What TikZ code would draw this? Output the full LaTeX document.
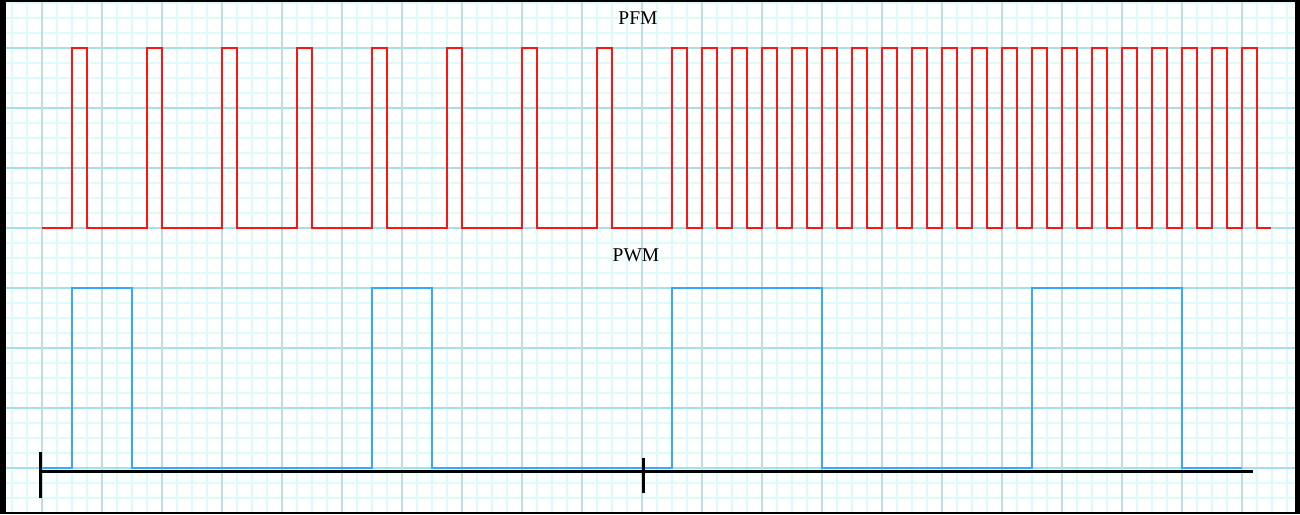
\documentclass[tikz,border=0pt]{standalone}
\usepackage{fontspec}
\setmainfont{Liberation Serif}

\definecolor{gridminor}{RGB}{222,251,251}
\definecolor{gridhmajor}{RGB}{165,224,232}
\definecolor{gridvmajor}{RGB}{192,222,226}
\definecolor{pfmred}{RGB}{255,20,20}
\definecolor{pwmblue}{RGB}{51,170,255}

\tikzset{
  minorline/.style={gridminor, line width=1.1pt},
  hmajorline/.style={gridhmajor, line width=1.2pt},
  vmajorline/.style={gridvmajor, line width=1.2pt},
  pfmwave/.style={pfmred, line width=2.2pt},
  pwmwave/.style={pwmblue, line width=2.2pt},
  axisline/.style={black, line width=3pt},
  title/.style={font=\fontsize{19.5}{22}\selectfont}
}

\begin{document}
\begin{tikzpicture}[x=1pt,y=-1pt]

  \useasboundingbox (0,0) rectangle (1300,514);
  \fill[black] (0,0) rectangle (1300,514);
  \fill[white] (6,2) rectangle (1295,512);

  % grid
  \foreach \x in {12,27,...,1292}
    \draw[minorline] (\x,2) -- (\x,512);
  \foreach \y in {3,18,...,510}
    \draw[minorline] (6,\y) -- (1295,\y);
  \foreach \y in {48,108,...,510}
    \draw[hmajorline] (6,\y) -- (1295,\y);
  \foreach \x in {42,102,...,1292}
    \draw[vmajorline] (\x,2) -- (\x,512);

  \node[title] (pfmlabel) at (638,18) {PFM};
  \node[title] (pwmlabel) at (636,255) {PWM};

  % PFM
  \draw[pfmwave] (42,228)
    \foreach \x in {72,147,...,597,672,702,...,1242} {
      -- (\x,228) -- (\x,48) -- (\x+15,48) -- (\x+15,228)
    } -- (1271,228);

  % PWM
  \draw[pwmwave] (42,468)
    -- (72,468) -- (72,288) -- (132,288) -- (132,468)
    -- (372,468) -- (372,288) -- (432,288) -- (432,468)
    -- (672,468) -- (672,288) -- (822,288) -- (822,468)
    -- (1032,468) -- (1032,288) -- (1182,288) -- (1182,468)
    -- (1242,468);

  \coordinate (axisstart) at (40,471);
  \coordinate (axismid) at (643,471);
  \coordinate (axisend) at (1253,471);

  \draw[axisline] (axisstart) -- (axisend);
  \draw[axisline] ([yshift=19pt]axisstart) -- ([yshift=-27pt]axisstart);
  \draw[axisline] ([yshift=13pt]axismid) -- ([yshift=-22pt]axismid);

\end{tikzpicture}
\end{document}
